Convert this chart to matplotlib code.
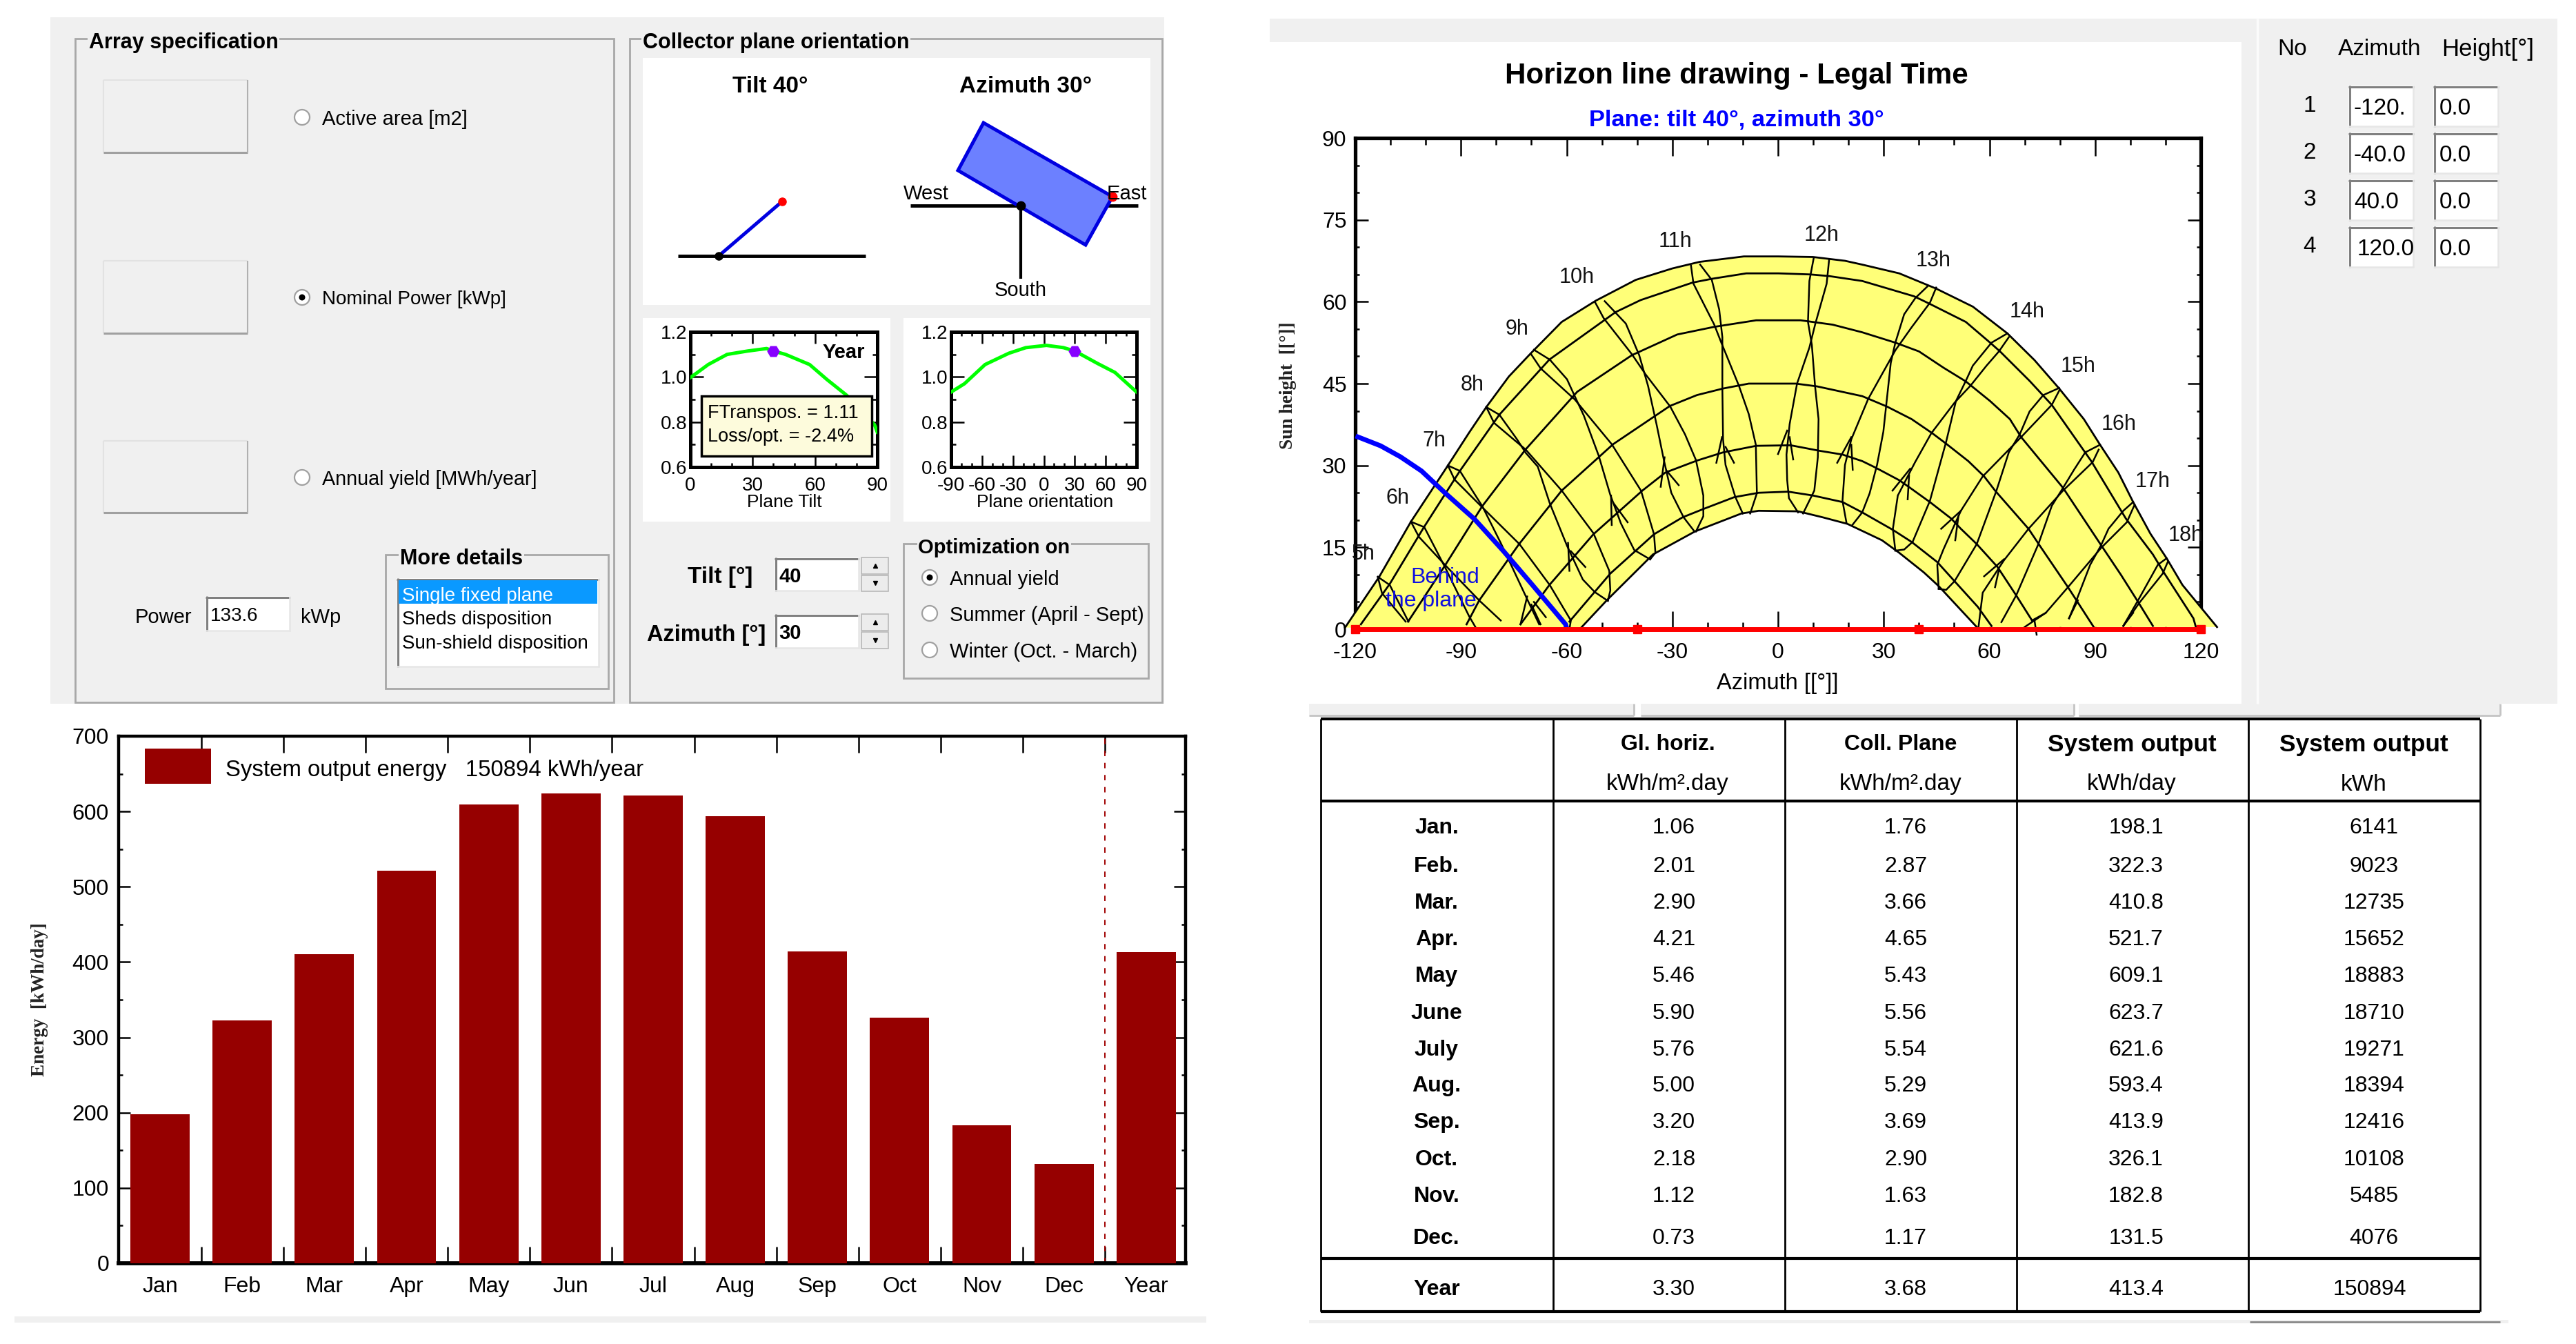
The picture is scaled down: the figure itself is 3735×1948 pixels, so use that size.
import matplotlib
matplotlib.use("Agg")
import matplotlib.pyplot as plt
from matplotlib.patches import Rectangle, Polygon, Circle, Patch
from matplotlib.ticker import MultipleLocator, FixedLocator, NullFormatter, FixedFormatter

W, H = 3735, 1948
plt.rcParams['font.family'] = ['Liberation Sans', 'DejaVu Sans']

# ---------- monthly data ----------
months = ['Jan', 'Feb', 'Mar', 'Apr', 'May', 'Jun', 'Jul', 'Aug', 'Sep', 'Oct', 'Nov', 'Dec', 'Year']
energy = [198.1, 322.3, 410.8, 521.7, 609.1, 623.7, 621.6, 593.4, 413.9, 326.1, 182.8, 131.5, 413.4]

tbl_rows = ['Jan.', 'Feb.', 'Mar.', 'Apr.', 'May', 'June', 'July', 'Aug.', 'Sep.', 'Oct.', 'Nov.', 'Dec.']
tbl_glob = ['1.06', '2.01', '2.90', '4.21', '5.46', '5.90', '5.76', '5.00', '3.20', '2.18', '1.12', '0.73']
tbl_coll = ['1.76', '2.87', '3.66', '4.65', '5.43', '5.56', '5.54', '5.29', '3.69', '2.90', '1.63', '1.17']
tbl_day = ['198.1', '322.3', '410.8', '521.7', '609.1', '623.7', '621.6', '593.4', '413.9', '326.1', '182.8', '131.5']
tbl_kwh = ['6141', '9023', '12735', '15652', '18883', '18710', '19271', '18394', '12416', '10108', '5485', '4076']
tbl_year = ['Year', '3.30', '3.68', '413.4', '150894']

# ---------- transposition curves ----------
tilt_x = [0, 8.6, 17.7, 27.6, 36.7, 40, 45.8, 57.4, 65.7, 74.8, 82, 88.8, 90]
tilt_y = [0.997, 1.055, 1.10, 1.115, 1.126, 1.115, 1.10, 1.055, 0.989, 0.922, 0.86, 0.785, 0.755]
orient_x = [-90, -77, -57, -34, -17.5, 2.5, 19, 30, 52, 69, 90]
orient_y = [0.933, 0.97, 1.055, 1.105, 1.13, 1.14, 1.13, 1.115, 1.06, 1.02, 0.933]

# ---------- sun paths: (azimuth, height) ----------
arc_outer = [(-122.9, 0.3), (-113.2, 9.6), (-104.2, 19.7), (-93.7, 30), (-87.7, 36), (-82.8, 40.7), (-76.4, 46.3),
             (-70.1, 50.6), (-61.4, 56.3), (-51.7, 60.2), (-40.4, 64), (-30, 66.1), (-22.3, 67.3), (-9.7, 68.3),
             (0, 68.3), (9.9, 68.2), (19, 67.5), (23.9, 66.8), (34.4, 65.2), (44.9, 62.4), (55.3, 59.1), (65.1, 54.2),
             (72.8, 49.3), (79.8, 44.1), (86.8, 38.5), (91.4, 33.8), (96.6, 28.7), (100.8, 23.3), (105.7, 17.5),
             (110.3, 13), (114.8, 8.1), (120.4, 3.7), (124.6, 0.4)]
arc_2 = [(-118.4, 0.9), (-110.2, 8.3), (-100.5, 18.7), (-90.3, 29), (-79.1, 39.3), (-64.9, 49.4), (-46.1, 58.1),
         (-39, 60.3), (-24.3, 63.5), (-18.8, 64.2), (-9, 65.2), (0.1, 65.2), (9.2, 65), (14.5, 64.7), (23.9, 63.8),
         (38.6, 61), (43.1, 59.6), (53.3, 56.3), (60.2, 52.5), (63, 50.9), (71.4, 45.5), (77.7, 41.1), (88.9, 30.8),
         (98.7, 20.3), (106.4, 13.7), (109.5, 10.4), (117.9, 2), (118.6, 0.4)]
arc_3 = [(-105, 1.4), (-94.5, 11.7), (-84, 22.5), (-71.7, 32.9), (-57, 43.5), (-41.5, 50.2), (-28.6, 54), (-18.1, 55.4),
         (-6.2, 56.6), (6.4, 56.6), (15.5, 55.8), (23.9, 54.4), (33.3, 52.5), (40, 50.9), (47, 47.9), (53.3, 45.4),
         (60.2, 41.8), (65.8, 38.5), (69, 35.2), (80.9, 25.9), (91.7, 15.4), (97.3, 10), (102.2, 5), (106.4, 0.6)]
arc_4 = [(-88.4, 0.9), (-84.8, 5.3), (-73.5, 15.6), (-61.4, 25.4), (-46.8, 33.9), (-30.7, 40.9), (-23, 42.9),
         (-15.6, 44.1), (-8.3, 45), (5, 45), (11, 44.5), (23.9, 42.7), (30.9, 40.8), (37.9, 38.5), (43.8, 35.9),
         (47.7, 34), (54, 30.8), (58.5, 28), (61.6, 25.4), (71.1, 18.4), (74.2, 15.4), (82.3, 7.7), (89.6, 0.4)]
arc_5 = [(-73.1, 0.9), (-64.9, 8.1), (-52.4, 17.4), (-38.5, 25.4), (-32, 28.7), (-23, 30.9), (-15.6, 32.4), (-6.2, 33.6),
         (3.6, 33.7), (11.7, 32.7), (18.3, 32), (23.9, 30.8), (27.7, 29.6), (34.4, 27.3), (37.5, 25.9), (43.1, 23.3),
         (49.1, 20.3), (51.9, 18.4), (56.4, 15.6), (62.3, 11.4), (67.6, 6.2), (72.1, 1.6)]
arc_6 = [(-59.2, 1.4), (-47.6, 10.2), (-35.2, 17.4), (-27.1, 20.5), (-20.9, 22.1), (-12.4, 24.2), (-5.5, 25), (2.9, 25.2),
         (9.9, 24.5), (18.3, 23.3), (23.9, 21.4), (32.6, 18.2), (37.9, 16), (45.2, 12.3), (50.1, 8.8), (56.7, 4.1),
         (60.6, 0.6)]
arc_inner = [(-56, 0.2), (-48.6, 5.3), (-35.5, 13.7), (-23.6, 17.9), (-10.4, 21.2), (-5.5, 21.7), (5.7, 21.6), (12.7, 20.5),
             (19.7, 19.3), (29.5, 16.3), (34.4, 14), (41.4, 10.4), (45.6, 7.9), (56.4, 0.4)]

h05a = [(-113.6, 9.6), (-110.2, 8.1), (-104.9, 1.4)]
h05b = [(-113.6, 9.6), (-112.4, 6.6), (-105.7, 1.4)]
h06a = [(-104.2, 19.7), (-101.9, 16.9), (-94.4, 11.7), (-84.7, 5.2), (-78.7, 1.6)]
h06b = [(-104.2, 19.7), (-100.4, 18.7), (-94.4, 11.2), (-87.7, 2.4), (-85.8, 0.3)]
h07a = [(-93.7, 30), (-91.8, 27.4), (-83.9, 22.3), (-73.4, 15.6), (-64.8, 8.1), (-58.8, 1.6), (-59.2, 0.1)]
h07b = [(-93.7, 30), (-90.3, 29), (-83.9, 22.5), (-78.7, 15.8), (-75.7, 11.7), (-71.2, 5.5), (-67.8, 0.9)]
h08a = [(-82.8, 40.7), (-80.6, 37.8), (-71.6, 32.9), (-61.4, 25.4), (-52.4, 17.6), (-47.9, 10.7), (-47.6, 7.1), (-48.3, 5.2)]
h08b = [(-82.8, 40.7), (-79.1, 39.3), (-74.2, 34.9), (-71.6, 32.3), (-68.2, 29.8), (-64.8, 23.1), (-59.9, 15.3), (-55.4, 9.1),
        (-52, 6.8), (-48.3, 5.2)]
h09a = [(-70.1, 50.4), (-67.4, 47.8), (-57.7, 42.1), (-47.2, 33.9), (-38.9, 25.4), (-35.2, 17.4), (-34.8, 14), (-36.3, 12.8)]
h09b = [(-69.3, 51.2), (-64.8, 49.4), (-59.9, 45.8), (-57.7, 42.7), (-55.1, 39.1), (-50.9, 31.8), (-47.6, 24.6), (-44.6, 19.4),
        (-40.8, 14.5), (-36.3, 12.8)]
h10a = [(-52, 60), (-49.5, 57), (-41.5, 50.4), (-37.6, 46.7), (-30.6, 40.8), (-26.4, 35.7), (-23.3, 31), (-21.2, 24.5),
        (-21.2, 20.7), (-23.3, 17.9)]
h10b = [(-49.2, 60.1), (-43.2, 56), (-39.4, 50.2), (-36.9, 44.6), (-34.5, 37.6), (-32.4, 31), (-30.3, 25), (-26.8, 20.5),
        (-23.7, 17.9)]
h11a = [(-24.7, 66.6), (-24, 63.3), (-18.1, 55.8), (-16.1, 52.5), (-11.1, 44.6), (-8.3, 39.4), (-6.3, 33.8), (-6, 24.9), (-7.9, 21.2)]
h11b = [(-22.1, 66.8), (-18.8, 64), (-16.7, 58.6), (-15.8, 53.5), (-15.8, 44.1), (-15.6, 34.8), (-14.9, 30.1), (-12.1, 24.2), (-10, 21.2)]
h12a = [(14.5, 67.7), (13.8, 63.3), (10.6, 56), (8.9, 51.6), (5.4, 45), (3.3, 37.6), (2.4, 32), (2.6, 27.3), (3.1, 24), (5.7, 21.4)]
h12b = [(10.1, 67.9), (8.9, 63.8), (8.5, 56.3), (9.6, 52.1), (10.5, 44.6), (11.5, 38.5), (11.3, 31.5), (10.3, 25.4), (7.1, 21.2)]
h13a = [(42.4, 62.8), (39, 60.7), (35.8, 57.7), (33.3, 52.5), (32, 48.8), (30.9, 42.2), (29.9, 36.2), (28.1, 30.1), (26, 24.9),
        (23.9, 21.4), (21.1, 19.1)]
h13b = [(44.9, 62.6), (43.1, 59.8), (37.9, 55.3), (33.3, 51.1), (25.6, 42.2), (20.8, 34.8), (19, 30.1), (18.3, 23.5), (19.4, 19.6)]
h14a = [(65.1, 54.2), (60.6, 52.5), (55.3, 48.3), (53.3, 45.5), (50.5, 41.8), (47.7, 34.3), (43.1, 23.5), (38.2, 16), (35.8, 14.6),
        (33.3, 14.4)]
h14b = [(65.5, 53.5), (62.7, 50.9), (59.2, 48.3), (54.6, 44.6), (50.1, 41.5), (43.5, 35.9), (38.9, 30.6), (34, 24.5), (32.6, 18.4),
        (33.3, 14.4)]
h15a = [(79.8, 44.2), (75.3, 42.9), (71.4, 39.9), (68.6, 35.7), (65.5, 32.4), (62, 25.4), (56.4, 15.6), (50.1, 8.8), (47.7, 7.2),
        (45.6, 7.4)]
h15b = [(79.8, 43.7), (77.7, 41.1), (69.3, 35.4), (58.1, 28), (51.9, 21.7), (47, 14.7), (45.2, 11.8), (45.6, 7.4)]
h16a = [(91.4, 33.8), (87.2, 32.4), (84, 29.2), (80.9, 25.9), (77.7, 22.6), (73.9, 15.6), (67.6, 6.2), (63.4, 1.3)]
h16b = [(91, 32.9), (89.3, 30.6), (80.9, 25.4), (71.1, 18.4), (64.1, 12.6), (58.1, 6.7), (56.9, 0.4)]
h17a = [(100.8, 23.3), (98, 21.7), (93.8, 18.4), (91.7, 15.4), (88.6, 11.8), (84.7, 5.3), (82.6, 2)]
h17b = [(101.2, 22.8), (99, 19.6), (91.7, 14.9), (82.3, 7.7), (76, 3), (72.1, 1.6)]
h18a = [(110.3, 13), (107.8, 11.8), (102.2, 5.3), (98, 0.6)]
h18b = [(110.6, 12.3), (109.2, 10.2), (102.5, 4.8), (98, 0.6)]

hour_tails = [[(-15.9, 35.2), (-17.5, 30.5)], [(-14.9, 33.4), (-12.5, 30.5)], [(-32.2, 31.5), (-33.3, 26.1)],
              [(-31.7, 29.1), (-28.2, 26.4)], [(2.6, 36.4), (0, 32.1)], [(3.3, 35.2), (4.3, 31.1)],
              [(-47.4, 24.5), (-47.2, 19.1)], [(-46.7, 23.1), (-42.7, 19.6)], [(20.8, 35.2), (16.8, 30.5)],
              [(20.8, 33.8), (21.2, 29.2)], [(37.5, 29.4), (32.5, 25.4)], [(37.2, 28.2), (36.8, 23.8)],
              [(51.9, 21.7), (46.3, 18.4)], [(51.2, 20.7), (50.3, 16.3)], [(-59.6, 15.8), (-59.2, 10.7)],
              [(-58.8, 14.3), (-54.7, 11.4)], [(-71.2, 6), (-73.1, 0.9)], [(-70, 4.5), (-67.4, 0.9)],
              [(-69.3, 5), (-65.9, 2.2)], [(64.1, 12.8), (58.5, 9.7)], [(62.7, 10.9), (61.6, 7.7)],
              [(76, 3), (70, 0.4)], [(72.8, 1.6), (73.4, -1)], [(85.1, 5.3), (82.6, 2)], [(100.8, 3), (98, 0.6)]]

hour_names = ['5h', '6h', '7h', '8h', '9h', '10h', '11h', '12h', '13h', '14h', '15h', '16h', '17h', '18h']
hour_label_az = [-117.6, -108, -97.6, -86.8, -74.1, -57.2, -29.2, 12.4, 44, 70.6, 85.2, 96.8, 106.4, 115.8]
hour_label_h = [13.8, 24, 34.5, 44.8, 55, 64.5, 71.1, 72.2, 67.5, 58.2, 48.1, 37.6, 27.0, 17.2]

plane_az = [-119.9, -112.8, -107.2, -101.2, -94.4, -86.2, -77.9, -69.7, -60.3, -59.9]
plane_h = [35.4, 33.6, 31.6, 29, 24.9, 20.2, 14.3, 8.1, 0.9, 0]

horizon_az = [-120, -40, 40, 120]
horizon_h = [0, 0, 0, 0]
horizon_az_txt = ['-120.', '-40.0', '40.0', '120.0']
horizon_h_txt = ['0.0', '0.0', '0.0', '0.0']

GRAY = '#f0f0f0'
TXT_DY = 3
fig = plt.figure(figsize=(W / 100, H / 100), dpi=100, facecolor='white')


def axpx(x0, y0, x1, y1, z=2):
    a = fig.add_axes([x0 / W, 1 - y1 / H, (x1 - x0) / W, (y1 - y0) / H])
    a.set_zorder(z)
    return a


bg = fig.add_axes([0, 0, 1, 1])
bg.set_xlim(0, W)
bg.set_ylim(H, 0)
bg.axis('off')
bg.set_zorder(0)
top = fig.add_axes([0, 0, 1, 1])
top.set_xlim(0, W)
top.set_ylim(H, 0)
top.axis('off')
top.set_zorder(5)
top.patch.set_alpha(0)


def rect(x0, y0, x1, y1, fc=GRAY, ec='none', lw=0, a=bg, z=1):
    a.add_patch(Rectangle((x0, y0), x1 - x0, y1 - y0, fc=fc, ec=ec, lw=lw, zorder=z))


def line(xs, ys, c='k', lw=2, a=bg, z=3, **k):
    a.plot(xs, ys, color=c, lw=lw, zorder=z, solid_capstyle='butt', **k)


def txt(x, y, s, size=21, ha='left', va='center', weight='normal', c='k', a=bg, **k):
    return a.text(x, y + TXT_DY, s, fontsize=size, ha=ha, va=va, fontweight=weight, color=c, zorder=6, **k)


def group(x0, y0, x1, y1, title, tx, size=22):
    rect(x0, y0, x1, y1, fc='none', ec='#a8a8a8', lw=2, z=2)
    txt(tx, y0 + 3, title, size=size, weight='bold', bbox=dict(fc=GRAY, ec='none', pad=1))


def raised(x0, y0, x1, y1):
    rect(x0, y0, x1, y1, fc=GRAY, ec='none', z=2)
    line([x0, x1], [y0, y0], c='#e2e2e2', lw=1.5)
    line([x0, x0], [y0, y1], c='#e2e2e2', lw=1.5)
    line([x0, x1], [y1, y1], c='#a0a0a0', lw=2.2)
    line([x1, x1], [y0, y1], c='#b0b0b0', lw=1.5)


def edit(x0, y0, x1, y1, s, tx=None, weight='normal', size=21):
    rect(x0, y0, x1, y1, fc='white', z=2)
    line([x0, x1], [y0 + 2, y0 + 2], c='#808080', lw=2.2)
    line([x0 + 2, x0 + 2], [y0, y1], c='#808080', lw=2.2)
    line([x0, x1], [y1 - 1, y1 - 1], c='#e6e6e6', lw=1.8)
    line([x1 - 1, x1 - 1], [y0, y1], c='#e6e6e6', lw=1.8)
    t = txt(tx if tx else x0 + 8, (y0 + y1) / 2, s, size=size, weight=weight)
    t.set_clip_path(Rectangle((x0, y0), x1 - x0 - 8, y1 - y0, transform=bg.transData))


def radio(x, y, on=False):
    bg.add_patch(Circle((x, y), 11, fc='white', ec='#a0a0a0', lw=1.6, zorder=3))
    if on:
        bg.add_patch(Circle((x, y), 4.5, fc='k', ec='none', zorder=4))


def spin(x0, y0, x1, y1):
    m = (y0 + y1) / 2
    for a0, a1, mk in ((y0, m - 1, '^'), (m + 1, y1, 'v')):
        rect(x0, a0, x1, a1, fc='#ececec', ec='#b8b8b8', lw=1.2, z=2)
        bg.plot([(x0 + x1) / 2], [(a0 + a1) / 2], marker=mk, ms=4, color='k', zorder=4)


# ------------- panel backgrounds ---------------
rect(73, 25, 1688, 1020)
rect(1841, 27, 3708, 61)
rect(3250, 61, 3708, 1020)
line([3273, 3273], [27, 1020], c='#fbfbfb', lw=2.5)
rect(21, 1908, 1749, 1917)
for x0, x1 in ((1898, 2369), (2379, 3007), (3014, 3625)):
    rect(x0, 1020, x1, 1037)
    line([x0, x1], [1037, 1037], c='#c4c4c4', lw=2)
    line([x1, x1], [1020, 1037], c='#c4c4c4', lw=2)
rect(1898, 1913, 3637, 1918)
line([3262, 3625], [1916, 1916], c='#888888', lw=2)

# ------------- array spec ---------------
group(109, 56, 890, 1018, 'Array specification', 129)
for y0, y1 in ((116, 221), (378, 483), (639, 743)):
    raised(150, y0, 359, y1)
radio(438, 170)
radio(438, 431, True)
radio(438, 692)
txt(467, 170, 'Active area [m2]')
txt(467, 431, 'Nominal Power [kWp]', size=20)
txt(467, 692, 'Annual yield [MWh/year]', size=20.7)
txt(196, 892, 'Power')
edit(298, 864, 421, 915, '133.6', tx=305, size=20)
txt(436, 892, 'kWp')
group(559, 804, 882, 998, 'More details', 580)
edit(575, 838, 869, 967, '')
rect(578, 841, 866, 875, fc='#0a99ff', z=3)
txt(583, 861, 'Single fixed plane', size=20, c='white')
txt(583, 895, 'Sheds disposition', size=20)
txt(583, 930, 'Sun-shield disposition', size=20)

# ------------- collector ---------------
group(913, 56, 1685, 1018, 'Collector plane orientation', 932)
rect(932, 84, 1668, 442, fc='white')
txt(1117, 122, 'Tilt 40°', size=24, ha='center', weight='bold')
txt(1487, 122, 'Azimuth 30°', size=24, ha='center', weight='bold')
line([983, 1255], [371, 371], lw=3.5)
line([1042, 1134], [371, 292], c='#0000e0', lw=3.6)
bg.plot([1042], [371], 'o', color='k', ms=8, zorder=5)
bg.plot([1134], [292], 'o', color='#ff0000', ms=8, zorder=5)
bg.add_patch(Polygon([(1426, 178), (1613, 285), (1574, 355), (1389, 247)], fc='#6c80ff', ec='#0000e0', lw=3.6, zorder=2))
line([1320, 1650], [298, 298], lw=3.5, z=1.5)
line([1480, 1480], [298, 404], lw=3)
bg.plot([1480], [298], 'o', color='k', ms=9, zorder=5)
bg.plot([1613], [285], 'o', color='#ff0000', ms=9, zorder=5)
txt(1343, 278, 'West', ha='center')
txt(1634, 278, 'East', ha='center')
txt(1480, 418, 'South', ha='center')
rect(932, 461, 1291, 756, fc='white')
rect(1310, 461, 1668, 756, fc='white')


def mini(x0, x1, xlim, xs, ys, px, py, xlabel, center):
    a = axpx(x0, 481, x1, 677)
    a.set_xlim(*xlim)
    a.set_ylim(0.6, 1.2)
    a.plot(xs, ys, color='#00ff00', lw=3.6, zorder=3, clip_on=True)
    a.plot([px], [py], marker='H', ms=12, color='#8800ff', zorder=4, ls='none')
    a.xaxis.set_major_locator(MultipleLocator(30))
    a.xaxis.set_minor_locator(MultipleLocator(10))
    a.yaxis.set_major_locator(MultipleLocator(0.2))
    a.yaxis.set_minor_locator(MultipleLocator(0.1))
    a.tick_params(axis='x', which='major', direction='in', top=True, length=12, width=1.8, labelsize=20, pad=10)
    a.tick_params(axis='x', which='minor', direction='in', top=True, length=4.5, width=1.8)
    a.tick_params(axis='y', which='major', direction='in', right=True, length=14, width=1.8, labelsize=20, pad=3)
    a.tick_params(axis='y', which='minor', direction='in', right=True, length=5, width=1.8)
    a.yaxis.set_major_formatter(lambda v, p: f'{v:.1f}')
    a.xaxis.set_major_formatter(lambda v, p: f'{v:.0f}')
    for s in a.spines.values():
        s.set_linewidth(3.6)
    txt(center, 725, xlabel, size=19, ha='center')
    return a


m1 = mini(1001, 1272, (0, 90), tilt_x, tilt_y, 40, 1.115, 'Plane Tilt', 1137)
m2 = mini(1379, 1648, (-90, 90), orient_x, orient_y, 30, 1.115, 'Plane orientation', 1515)
rect(1017, 574, 1264, 661, fc='#fdfbdc', ec='k', lw=2.5, a=top)
txt(1026, 596, 'FTranspos. = 1.11', size=19.5, a=top)
txt(1026, 630, 'Loss/opt. = -2.4%', size=19.5, a=top)
txt(1223, 508, 'Year', size=21, ha='center', weight='bold', a=top)

txt(1091, 834, 'Tilt [°]', size=24, ha='right', weight='bold')
edit(1123, 808, 1246, 857, '40', tx=1129, weight='bold')
spin(1249, 808, 1288, 857)
txt(1110, 918, 'Azimuth [°]', size=23.5, ha='right', weight='bold')
edit(1123, 890, 1246, 940, '30', tx=1129, weight='bold')
spin(1249, 890, 1288, 940)
group(1310, 788, 1665, 983, 'Optimization on', 1331, size=21)
radio(1348, 837, True)
radio(1348, 889)
radio(1348, 942)
txt(1377, 837, 'Annual yield')
txt(1377, 889, 'Summer (April - Sept)')
txt(1377, 942, 'Winter (Oct. - March)')

# ------------- horizon table ---------------
txt(3324, 68, 'No', size=24, ha='center')
txt(3450, 68, 'Azimuth', size=24, ha='center')
txt(3607, 68, 'Height[°]', size=25, ha='center')
for i, (az_s, h_s) in enumerate(zip(horizon_az_txt, horizon_h_txt)):
    y0 = 124 + i * 68
    txt(3358, y0 + 27, str(i + 1), size=24, ha='right')
    edit(3405, y0, 3500, y0 + 60, az_s, tx=3413 if i != 3 else 3417, size=24)
    edit(3528, y0, 3623, y0 + 60, h_s, tx=3537, size=24)

# ------------- sun chart ---------------
sun = axpx(1965, 200, 3191, 912)
sun.set_xlim(-120, 120)
sun.set_ylim(0, 90)
sun.xaxis.set_major_locator(MultipleLocator(30))
sun.xaxis.set_minor_locator(MultipleLocator(10))
sun.yaxis.set_major_locator(MultipleLocator(15))
sun.yaxis.set_minor_locator(MultipleLocator(5))
sun.tick_params(axis='x', which='major', direction='in', top=True, length=19, width=1.8, labelsize=23, pad=14)
sun.tick_params(axis='x', which='minor', direction='in', top=True, length=7, width=1.8)
sun.tick_params(axis='y', which='major', direction='in', right=True, length=14, width=1.8, labelsize=23, pad=9)
sun.tick_params(axis='y', which='minor', direction='in', right=True, length=4.5, width=1.8)
sun.xaxis.set_major_formatter(lambda v, p: f'{v:.0f}')
sun.yaxis.set_major_formatter(lambda v, p: f'{v:.0f}')
for s in sun.spines.values():
    s.set_linewidth(3.8)
outline = arc_outer + arc_inner[::-1]
sun.add_patch(Polygon(outline, fc='#ffff78', ec='none', zorder=3, clip_on=False))
for arc in (arc_outer, arc_2, arc_3, arc_4, arc_5, arc_6, arc_inner):
    sun.plot(*zip(*arc), color='k', lw=2.0, zorder=3.2, clip_on=False)
hour_lines = [h05a, h05b, h06a, h06b, h07a, h07b, h08a, h08b, h09a, h09b, h10a, h10b, h11a, h11b,
              h12a, h12b, h13a, h13b, h14a, h14b, h15a, h15b, h16a, h16b, h17a, h17b, h18a, h18b] + hour_tails
for hl in hour_lines:
    sun.plot(*zip(*hl), color='k', lw=1.8, zorder=3.3, clip_on=False)
for nm, az, hh in zip(hour_names, hour_label_az, hour_label_h):
    sun.text(az, hh, nm, fontsize=22, ha='center', va='center', zorder=6, color='#111111', clip_on=False)
sun.plot(plane_az, plane_h, color='#0000ff', lw=5, zorder=4, clip_on=False, solid_capstyle='butt')
sun.plot([horizon_az[0], horizon_az[-1]], [horizon_h[0], horizon_h[-1]], color='#ff0000', lw=5, zorder=5, clip_on=False,
         solid_capstyle='butt')
sun.plot(horizon_az, horizon_h, ls='none', marker='s', ms=9, color='#ff0000', zorder=5, clip_on=False)
sun.text(-94.6, 9.5, 'Behind', color='#1010e0', fontsize=23, ha='center', va='center', zorder=6)
sun.text(-98.4, 5.2, 'the plane', color='#1010e0', fontsize=23, ha='center', va='center', zorder=6)
txt(2518, 107, 'Horizon line drawing - Legal Time', size=30.3, ha='center', weight='bold')
txt(2518, 171, 'Plane: tilt 40°, azimuth 30°', size=24.8, ha='center', weight='bold', c='#0000ff')
txt(2577, 988, 'Azimuth [[°]]', size=23.5, ha='center')
txt(1868, 556, 'Sun height  [[°]]', size=19.5, ha='center', rotation=90, weight='bold', family='Liberation Serif', c='#222222')

# ------------- bar chart ---------------
bar = axpx(172, 1067, 1719, 1831)
xpos = list(range(len(months)))
bar.bar(xpos, energy, width=0.72, color='#960000', zorder=3)
bar.set_xlim(-0.504, 12.48)
bar.set_ylim(0, 700)
bar.axvline(11.5, color='#a00000', lw=1.4, ls=(0, (4, 5)), zorder=2)
bar.xaxis.set_major_locator(FixedLocator([i + 0.5 for i in range(12)]))
bar.xaxis.set_major_formatter(NullFormatter())
bar.xaxis.set_minor_locator(FixedLocator(xpos))
bar.xaxis.set_minor_formatter(FixedFormatter(months))
bar.yaxis.set_major_locator(MultipleLocator(100))
bar.yaxis.set_minor_locator(MultipleLocator(50))
bar.tick_params(axis='x', which='major', direction='in', top=True, length=17, width=1.8)
bar.tick_params(axis='x', which='minor', length=0, labelsize=23, pad=14)
bar.tick_params(axis='y', which='major', direction='in', right=True, length=12, width=1.8, labelsize=23, pad=10)
bar.tick_params(axis='y', which='minor', direction='in', right=True, length=4, width=1.8)
for s in bar.spines.values():
    s.set_linewidth(3.2)
bar.spines['bottom'].set_linewidth(4.2)
leg = bar.legend(handles=[Patch(fc='#960000', label='System output energy   150894 kWh/year')], loc='upper left',
                 bbox_to_anchor=(0.0246, 0.976), frameon=False, fontsize=23.8, borderpad=0, borderaxespad=0,
                 handlelength=2.9, handleheight=2.0, handletextpad=0.65)
for t in leg.get_texts():
    t.set_y(-4)
txt(57, 1446, 'Energy  [kWh/day]', size=19.5, ha='center', rotation=90, weight='bold', family='Liberation Serif', c='#222222')

# ------------- results table ---------------
col_lines = [1915, 2252, 2588, 2924, 3260, 3596]
for i, x in enumerate(col_lines):
    line([x, x], [1042, 1901], lw=2, z=4)
line([1915, 3596], [1042, 1042], lw=3, z=4)
line([1915, 3596], [1161, 1161], lw=3, z=4)
line([1915, 3596], [1824, 1824], lw=3, z=4)
line([1915, 3596], [1901, 1901], lw=3, z=4)
head_x = [2418, 2756, 3091, 3427]
head1 = ['Gl. horiz.', 'Coll. Plane', 'System output', 'System output']
head1_size = [23, 23, 25.4, 25.4]
head2 = ['kWh/m².day', 'kWh/m².day', 'kWh/day', 'kWh']
for x, a_, b_, sz in zip(head_x, head1, head2, head1_size):
    txt(x, 1076, a_, size=sz, ha='center', weight='bold')
    txt(x, 1134, b_, size=24, ha='center')
row_y = [1197, 1253, 1306, 1359, 1412, 1466, 1519, 1571, 1624, 1678, 1731, 1792]
col_x = [2427, 2763, 3097, 3442]
for j, y in enumerate(row_y):
    txt(2083, y, tbl_rows[j], size=23, ha='center', weight='bold')
    for x, col in zip(col_x, (tbl_glob, tbl_coll, tbl_day, tbl_kwh)):
        txt(x, y, col[j], size=23, ha='center')
txt(2083, 1866, tbl_year[0], size=23, ha='center', weight='bold')
for x, s in zip((2427, 2763, 3097, 3436), tbl_year[1:]):
    txt(x, 1866, s, size=23, ha='center')

fig.savefig('out.png', dpi=100)
